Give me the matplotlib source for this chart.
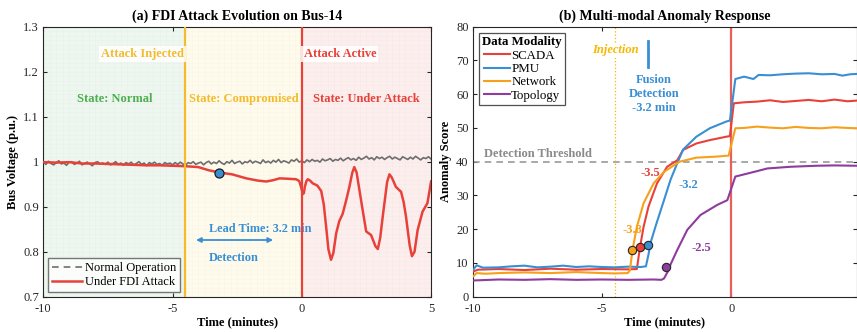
import numpy as np
import matplotlib
matplotlib.use("Agg")
import matplotlib.pyplot as plt
from matplotlib.ticker import FuncFormatter

plt.rcParams['font.family'] = ['Liberation Serif', 'DejaVu Serif']
plt.rcParams['font.size'] = 9
plt.rcParams['axes.unicode_minus'] = False

# ---------------- data: panel (a) ----------------
# normal operation voltage, thousandths of p.u., one value every 0.1 min from -10 to 5
grey_mv = [999, 994, 1001, 996, 993, 998, 1002, 995, 997, 992, 999, 1000, 994, 997, 1001, 993, 996, 999, 995, 991,
           998, 1000, 995, 997, 994, 999, 993, 996, 1000, 994, 997, 992, 998, 995, 999, 993, 996, 1000, 994, 997,
           991, 998, 995, 999, 994, 996, 992, 998, 995, 997,
           993, 998, 994, 999, 995, 992, 998, 996, 1000, 994, 997, 999, 993, 998, 1001, 995, 999, 996, 1002, 997,
           994, 1000, 997, 1003, 996, 999, 1001, 995, 1000, 998, 1003, 997, 1001, 999, 996, 1004, 998, 1001, 997, 1003,
           999, 1005, 998, 1002, 1000, 997, 1004, 1001, 1006, 999,
           1002, 998, 1004, 1000, 1005, 1001, 1003, 999, 1006, 1002, 1004, 1007, 1001, 1005, 1003, 1008, 1002, 1006, 1009, 1004,
           1007, 1003, 1010, 1005, 1008, 1012, 1006, 1009, 1004, 1011, 1007, 1010, 1005, 1009, 1012, 1006, 1010, 1007, 1004, 1011,
           1008, 1005, 1010, 1006, 1012, 1008, 1004, 1009, 1007, 1011, 1006]
t_normal = np.linspace(-10, 5, len(grey_mv))
v_normal = np.array(grey_mv) / 1000.0

t_attack = [-10, -9.5, -9, -8.5, -8, -7.5, -7, -6.5, -6, -5.5,
            -5, -4.5, -4.0, -3.6, -3.2, -2.7, -2.15, -1.7, -1.37, -1.1,
            -0.86, -0.5, -0.22, -0.1, -0.02, 0.04, 0.08, 0.12, 0.18, 0.23,
            0.32, 0.42, 0.6, 0.75, 0.85, 0.94, 1.03, 1.13, 1.22, 1.33,
            1.45, 1.58, 1.72, 1.84, 1.95, 2.03, 2.12, 2.29, 2.49, 2.68,
            2.85, 2.94, 3.03, 3.13, 3.3, 3.39, 3.48, 3.64, 3.84, 3.94,
            4.03, 4.17, 4.26, 4.36, 4.48, 4.67, 4.86, 5.0]
v_attack = [0.999, 0.998, 0.999, 0.996, 0.996, 0.995, 0.994, 0.993, 0.992, 0.992,
            0.991, 0.990, 0.988, 0.981, 0.976, 0.972, 0.963, 0.958, 0.956, 0.959,
            0.963, 0.962, 0.961, 0.957, 0.942, 0.928, 0.930, 0.945, 0.957, 0.961,
            0.958, 0.952, 0.947, 0.935, 0.905, 0.856, 0.805, 0.782, 0.797, 0.841,
            0.868, 0.884, 0.915, 0.944, 0.975, 0.988, 0.976, 0.915, 0.845, 0.837,
            0.812, 0.806, 0.830, 0.878, 0.955, 0.972, 0.965, 0.944, 0.933, 0.910,
            0.878, 0.815, 0.790, 0.800, 0.848, 0.889, 0.908, 0.956]
t_inject, t_active = -4.5, 0.0
t_detect, v_detect = -3.2, 0.976

# ---------------- data: panel (b) ----------------
t_scada = [-10, -9.8, -9, -8, -7, -6, -5, -4, -3.65, -3.53, -3.39, -3.2, -2.87, -2.48, -2.09, -1.86,
           -1.35, -0.83, -0.19, -0.05, 0.1, 0.5, 1, 1.5, 2, 2.5, 3, 3.5, 4, 4.5, 4.85]
s_scada = [7.4, 8.0, 8.2, 7.9, 8.3, 8.0, 8.2, 8.1, 8.2, 14.6, 20.7, 26.7, 33.6, 38.5, 40.4, 43.5,
           45.4, 46.4, 47.4, 47.6, 57.3, 57.6, 57.8, 58.2, 57.7, 58.0, 58.3, 57.9, 58.4, 57.9, 58.1]

t_pmu = [-10, -9.85, -9.6, -9, -8.5, -8, -7.5, -7, -6.5, -6, -5.5, -5, -4.5, -4, -3.5, -3.3,
         -3.2, -3.1, -2.9, -2.6, -2.35, -2.09, -1.86, -1.35, -0.83, -0.19, -0.05, 0.16, 0.5, 0.86,
         1.06, 1.5, 2, 2.5, 3, 3.5, 4, 4.3, 4.6, 4.85]
s_pmu = [7.8, 9.3, 8.6, 8.7, 9.0, 9.2, 8.7, 8.9, 9.2, 8.8, 9.0, 8.8, 8.7, 8.9, 8.8, 9.0,
         12.5, 16.5, 21.5, 28.6, 34.6, 39.5, 43.6, 47.4, 49.9, 51.9, 52.2, 64.5, 65.2, 64.5,
         65.7, 65.6, 65.9, 66.1, 66.2, 65.9, 66.0, 65.5, 65.9, 66.0]

t_net = [-10, -9.85, -9.5, -9, -8, -7, -6, -5, -4.5, -4.0, -3.92, -3.82, -3.65, -3.39, -3.0, -2.6,
         -2.0, -1.35, -0.6, -0.1, 0.16, 0.5, 1, 1.5, 2, 2.5, 3, 3.5, 4, 4.5, 4.85]
s_net = [5.9, 7.0, 6.8, 7.0, 7.2, 7.0, 7.3, 7.0, 6.9, 7.0, 7.8, 13.8, 20.7, 27.7, 33.6, 37.0,
         40.0, 41.2, 41.5, 41.8, 49.9, 50.0, 50.4, 50.1, 49.9, 50.3, 50.0, 49.9, 50.2, 50.0, 49.9]

t_topo = [-10, -9, -8, -7, -6, -5, -4, -3, -2.7, -2.6, -2.45, -2.35, -2.09, -1.7, -1.19, -0.54,
          -0.15, 0.16, 0.74, 1.4, 2.3, 3.3, 4.0, 4.85]
s_topo = [4.8, 5.1, 5.0, 5.2, 5.0, 5.1, 5.0, 5.1, 5.0, 5.4, 7.5, 9.5, 13.8, 19.8, 24.2, 27.2,
          28.6, 35.6, 36.7, 38.0, 38.5, 38.8, 38.9, 38.8]

first_x = [-3.53, -3.21, -3.82, -2.52]   # SCADA, PMU, Network, Topology
first_y = [14.6, 15.3, 13.8, 8.7]
first_lbl = ['-3.5', '-3.2', '-3.8', '-2.5']
threshold = 40

C_RED = '#e8413a'
C_BLUE = '#3a8fd4'
C_ORANGE = '#f7a01c'
C_PURPLE = '#8e3c9e'
C_YEL = '#f4bc2c'
C_GREEN = '#4caf50'

fig = plt.figure(figsize=(8.57, 3.32), dpi=100)
ax1 = fig.add_axes([0.0505, 0.1063, 0.4525, 0.8133])
ax2 = fig.add_axes([0.5516, 0.1063, 0.4479, 0.8133])


def style(ax):
    ax.tick_params(direction='in', top=True, right=True, length=3, width=0.8,
                   labelsize=9, colors='#262626', pad=3)
    ax.tick_params(axis='x', pad=4.5)
    for s in ax.spines.values():
        s.set_linewidth(0.8)
        s.set_color('#262626')


# ---------------- panel (a) ----------------
ax1.axvspan(-10, t_inject, color='#eef7ef', zorder=0)
ax1.axvspan(t_inject, t_active, color='#fefaec', zorder=0)
ax1.axvspan(t_active, 5, color='#fdeeee', zorder=0)
ax1.set_xticks(np.arange(-10, 5.01, 0.25), minor=True)
ax1.set_yticks(np.arange(0.7, 1.3, 0.01), minor=True)
ax1.grid(which='both', color='#000000', alpha=0.018, lw=0.5, zorder=0.5)
ax1.tick_params(which='minor', length=0)

ax1.plot(t_normal, v_normal, color='#6e6e6e', lw=1.2, zorder=3)
ax1.plot(t_attack, v_attack, color=C_RED, lw=1.8, zorder=4)
ax1.plot([], [], color='#6e6e6e', lw=1.2, ls=(0, (4, 3)), label='Normal Operation')
ax1.plot([], [], color=C_RED, lw=1.8, label='Under FDI Attack')
ax1.plot(t_detect, v_detect, 'o', ms=6.5, mfc=C_BLUE, mec='#1a1a1a', mew=0.9, zorder=6)

ax1.axvline(t_inject, color=C_YEL, lw=1.6, zorder=5)
ax1.axvline(t_active, color=C_RED, lw=1.6, zorder=5)

box = dict(facecolor='white', edgecolor='none', alpha=0.85, pad=1.5)
ax1.text(t_inject - 0.07, 1.24, 'Attack Injected', color=C_YEL, fontsize=9, fontweight='bold',
         ha='right', va='center', bbox=box, zorder=7)
ax1.text(t_active + 0.07, 1.24, 'Attack Active', color=C_RED, fontsize=9, fontweight='bold',
         ha='left', va='center', bbox=box, zorder=7)
ax1.text(-7.25, 1.14, 'State: Normal', color=C_GREEN, fontsize=9, fontweight='bold', ha='center', va='center')
ax1.text(-2.25, 1.14, 'State: Compromised', color=C_YEL, fontsize=9, fontweight='bold', ha='center', va='center')
ax1.text(2.5, 1.14, 'State: Under Attack', color=C_RED, fontsize=9, fontweight='bold', ha='center', va='center')

ax1.annotate('', xy=(-4.2, 0.826), xytext=(-1.0, 0.826),
             arrowprops=dict(arrowstyle='<|-|>', color=C_BLUE, lw=1.3, mutation_scale=7))
ax1.text(-3.6, 0.85, 'Lead Time: 3.2 min', color=C_BLUE, fontsize=8.8, fontweight='bold', ha='left', va='center')
ax1.text(-3.6, 0.785, 'Detection', color=C_BLUE, fontsize=8.8, fontweight='bold', ha='left', va='center')

ax1.set_xlim(-10, 5)
ax1.set_ylim(0.7, 1.3)
ax1.set_xticks([-10, -5, 0, 5])
ax1.set_yticks([0.7, 0.8, 0.9, 1.0, 1.1, 1.2, 1.3])
ax1.yaxis.set_major_formatter(FuncFormatter(lambda v, p: '%g' % round(v, 2)))
ax1.set_xlabel('Time (minutes)', fontsize=9, fontweight='bold', labelpad=1)
ax1.set_ylabel('Bus Voltage (p.u.)', fontsize=9, fontweight='bold', labelpad=3)
ax1.set_title('(a) FDI Attack Evolution on Bus-14', fontsize=10, fontweight='bold', pad=5)
leg1 = ax1.legend(loc='lower left', fontsize=9, frameon=True, fancybox=False, handlelength=2.4,
                  handletextpad=0.2, borderpad=0.3, labelspacing=0.15, borderaxespad=0.4)
leg1.get_frame().set_edgecolor('#555555')
leg1.get_frame().set_linewidth(1.0)
leg1.set_zorder(8)
style(ax1)

# ---------------- panel (b) ----------------
ax2.axhline(threshold, color='#9a9a9a', lw=1.2, ls=(0, (4, 3)), zorder=2)
ax2.text(-9.55, threshold + 0.4, 'Detection Threshold', color='#8a8a8a', fontsize=9, fontweight='bold',
         ha='left', va='bottom')
ax2.axvline(t_inject, color='#f5b800', lw=0.9, ls=':', zorder=2)
ax2.axvline(t_active, color='#e8605a', lw=1.6, zorder=2)

ax2.plot(t_scada, s_scada, color=C_RED, lw=1.5, label='SCADA', zorder=4)
ax2.plot(t_pmu, s_pmu, color=C_BLUE, lw=1.5, label='PMU', zorder=4)
ax2.plot(t_net, s_net, color=C_ORANGE, lw=1.5, label='Network', zorder=4)
ax2.plot(t_topo, s_topo, color=C_PURPLE, lw=1.5, label='Topology', zorder=4)

for xx, yy, c in zip(first_x, first_y, [C_RED, C_BLUE, C_ORANGE, C_PURPLE]):
    ax2.plot(xx, yy, 'o', ms=6, mfc=c, mec='#262626', mew=0.8, zorder=6)
ax2.text(-3.81, 19.8, first_lbl[2], color=C_ORANGE, fontsize=9, fontweight='bold', ha='center', va='center')
ax2.text(-3.14, 36.6, first_lbl[0], color=C_RED, fontsize=9, fontweight='bold', ha='center', va='center')
ax2.text(-1.65, 33.1, first_lbl[1], color=C_BLUE, fontsize=9, fontweight='bold', ha='center', va='center')
ax2.text(-1.14, 14.3, first_lbl[3], color=C_PURPLE, fontsize=9, fontweight='bold', ha='center', va='center')

ax2.text(-4.48, 73.0, 'Injection', color='#f5b800', fontsize=9, fontweight='bold', style='italic',
         ha='center', va='center', bbox=dict(facecolor='white', edgecolor='none', pad=1), zorder=3)
ax2.plot([-3.2, -3.2], [68.2, 75.9], color=C_BLUE, lw=2)
ax2.text(-3.0, 60, 'Fusion\nDetection\n-3.2 min', color=C_BLUE, fontsize=9, fontweight='bold',
         ha='center', va='center', linespacing=1.2)

ax2.set_xlim(-10, 4.85)
ax2.set_ylim(0, 80)
ax2.set_xticks([-10, -5, 0])
ax2.set_yticks(np.arange(0, 81, 10))
ax2.set_xlabel('Time (minutes)', fontsize=9, fontweight='bold', labelpad=1)
ax2.set_ylabel('Anomaly Score', fontsize=9, fontweight='bold', labelpad=3)
ax2.set_title('(b) Multi-modal Anomaly Response', fontsize=10, fontweight='bold', pad=5)
leg2 = ax2.legend(loc='upper left', fontsize=9.3, frameon=True, fancybox=False, title='Data Modality',
                  title_fontproperties={'weight': 'bold', 'size': 9.3}, handlelength=2.0,
                  handletextpad=0.1, borderpad=0.25, labelspacing=0.1, borderaxespad=0.5)
leg2.get_frame().set_edgecolor('#262626')
leg2.get_frame().set_linewidth(0.9)
style(ax2)

fig.savefig('out.png', dpi=100)
